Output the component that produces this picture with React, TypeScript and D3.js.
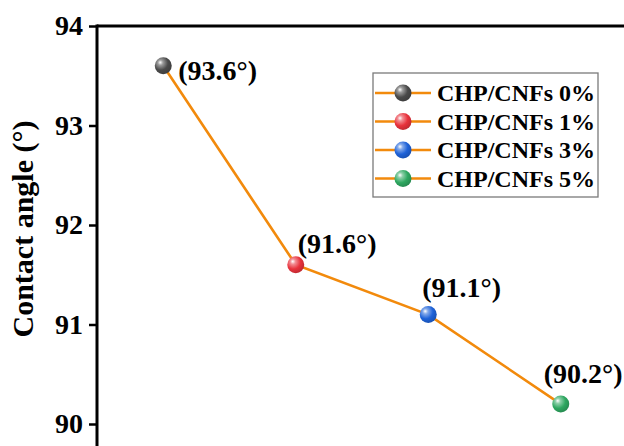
import React, { useRef, useEffect } from 'react';
import * as d3 from 'd3';

// data
const samples = ['CHP/CNFs 0%', 'CHP/CNFs 1%', 'CHP/CNFs 3%', 'CHP/CNFs 5%'];
const angles = [93.6, 91.6, 91.1, 90.2];
const pointColors = ['#4a4a4a', '#e8323c', '#1e62d8', '#2ea760'];
const yTicks = [90, 91, 92, 93, 94];

const W = 624, H = 446;
const font = '"Liberation Serif", "Times New Roman", serif';

const App = () => {
    const ref = useRef<SVGGElement>(null);

    // plot area: left axis at x=97, top at y=26; right/bottom run past the frame
    const xScale = d3.scaleLinear().domain([0.5, 4.5]).range([97, 627]);
    const yScale = d3.scaleLinear().domain([90, 94]).range([424, 26]);

    useEffect(() => {
        const g = d3.select(ref.current);
        g.selectAll('*').remove();

        const defs = g.append('defs');
        pointColors.forEach((c, i) => {
            const grad = defs.append('radialGradient')
                .attr('id', 'ball' + i)
                .attr('cx', '0.38').attr('cy', '0.35').attr('r', '0.7')
                .attr('fx', '0.32').attr('fy', '0.3');
            grad.append('stop').attr('offset', '0%').attr('stop-color', '#ffffff');
            grad.append('stop').attr('offset', '22%').attr('stop-color', d3.interpolateRgb(c, '#ffffff')(0.45));
            grad.append('stop').attr('offset', '60%').attr('stop-color', c);
            grad.append('stop').attr('offset', '100%').attr('stop-color', d3.color(c)!.darker(0.6).toString());
        });

        // top frame line
        g.append('line')
            .attr('x1', 97).attr('x2', W).attr('y1', 26).attr('y2', 26)
            .attr('stroke', '#000').attr('stroke-width', 3);

        // y axis
        const yAxis = g.append('g')
            .attr('transform', 'translate(97,0)')
            .call(d3.axisLeft(yScale).tickValues(yTicks).tickSize(8).tickPadding(6).tickFormat(d3.format('d')));
        yAxis.select('.domain').remove();
        yAxis.selectAll('.tick line').attr('stroke', '#000').attr('stroke-width', 2.5);
        yAxis.selectAll('.tick text')
            .attr('font-family', font).attr('font-weight', 'bold').attr('font-size', 28).attr('fill', '#000');
        g.append('line')
            .attr('x1', 97).attr('x2', 97).attr('y1', 24.5).attr('y2', H)
            .attr('stroke', '#000').attr('stroke-width', 3);

        g.append('text')
            .attr('transform', 'translate(33,' + 229 + ') rotate(-90)')
            .attr('text-anchor', 'middle')
            .attr('font-family', font).attr('font-weight', 'bold').attr('font-size', 30)
            .text('Contact angle (°)');

        // connecting line
        const line = d3.line<number>()
            .x((d, i) => xScale(i + 1))
            .y(d => yScale(d));
        g.append('path')
            .datum(angles)
            .attr('d', line)
            .attr('fill', 'none')
            .attr('stroke', '#f28a0c')
            .attr('stroke-width', 2.6);

        g.selectAll('circle.pt')
            .data(angles)
            .enter()
            .append('circle')
            .attr('class', 'pt')
            .attr('cx', (d, i) => xScale(i + 1))
            .attr('cy', d => yScale(d))
            .attr('r', 8.5)
            .attr('fill', (d, i) => 'url(#ball' + i + ')');

        // value labels
        const labelOffsets = [[15, 14], [2, -12], [-6, -18], [-17, -21]];
        g.selectAll('text.val')
            .data(angles)
            .enter()
            .append('text')
            .attr('class', 'val')
            .attr('x', (d, i) => xScale(i + 1) + labelOffsets[i][0])
            .attr('y', (d, i) => yScale(d) + labelOffsets[i][1])
            .attr('font-family', font).attr('font-weight', 'bold').attr('font-size', 28)
            .text(d => '(' + d.toFixed(1) + '°)');

        // legend
        const lg = g.append('g').attr('transform', 'translate(373,73)');
        lg.append('rect')
            .attr('width', 225).attr('height', 124)
            .attr('fill', '#fff').attr('stroke', '#7a7a7a').attr('stroke-width', 1.3);
        samples.forEach((s, i) => {
            const row = lg.append('g').attr('transform', 'translate(0,' + (20 + i * 28.5) + ')');
            row.append('line')
                .attr('x1', 2).attr('x2', 58)
                .attr('stroke', '#f28a0c').attr('stroke-width', 2.6);
            row.append('circle')
                .attr('cx', 30).attr('r', 8.5)
                .attr('fill', 'url(#ball' + i + ')');
            row.append('text')
                .attr('x', 64).attr('dy', '0.35em')
                .attr('font-family', font).attr('font-weight', 'bold').attr('font-size', 24)
                .text(s);
        });
    }, []);

    return (
        <svg width={W} height={H} style={{ position: 'absolute', left: 0, top: 0, background: '#fff' }}>
            <g ref={ref}></g>
        </svg>
    );
};

export default App;
